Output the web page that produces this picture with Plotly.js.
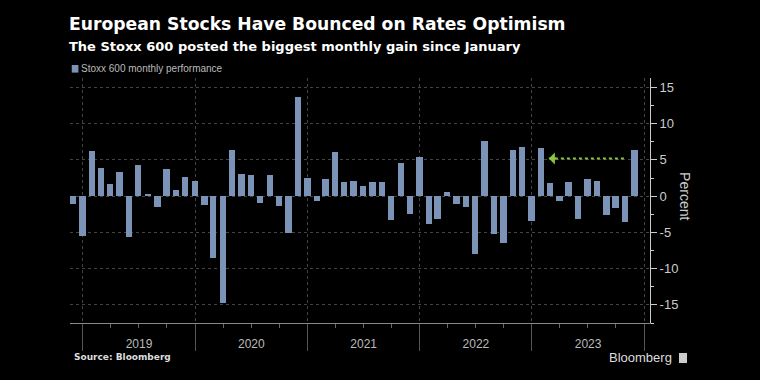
<!DOCTYPE html>
<html>
<head>
<meta charset="utf-8">
<script src="https://cdn.plot.ly/plotly-3.0.1.min.js"></script>
<style>
  html, body { margin: 0; padding: 0; background: #000; }
  #chart { width: 760px; height: 380px; }
</style>
</head>
<body>
<div id="chart"></div>
<script>
// Month-end dates of each observation
const months = [
  '2018-11-30','2018-12-31',
  '2019-01-31','2019-02-28','2019-03-31','2019-04-30','2019-05-31','2019-06-30','2019-07-31','2019-08-31','2019-09-30','2019-10-31','2019-11-30','2019-12-31',
  '2020-01-31','2020-02-29','2020-03-31','2020-04-30','2020-05-31','2020-06-30','2020-07-31','2020-08-31','2020-09-30','2020-10-31','2020-11-30','2020-12-31',
  '2021-01-31','2021-02-28','2021-03-31','2021-04-30','2021-05-31','2021-06-30','2021-07-31','2021-08-31','2021-09-30','2021-10-31','2021-11-30','2021-12-31',
  '2022-01-31','2022-02-28','2022-03-31','2022-04-30','2022-05-31','2022-06-30','2022-07-31','2022-08-31','2022-09-30','2022-10-31','2022-11-30','2022-12-31',
  '2023-01-31','2023-02-28','2023-03-31','2023-04-30','2023-05-31','2023-06-30','2023-07-31','2023-08-31','2023-09-30','2023-10-31','2023-11-30'
];
// Stoxx 600 monthly performance, percent
const performance = [
  -1.1, -5.5,
  6.2, 3.9, 1.7, 3.3, -5.6, 4.3, 0.3, -1.5, 3.7, 0.9, 2.7, 2.1,
  -1.2, -8.5, -14.7, 6.3, 3.1, 2.9, -1.0, 2.9, -1.4, -5.1, 13.7, 2.5,
  -0.7, 2.4, 6.1, 1.9, 2.1, 1.4, 2.0, 2.0, -3.3, 4.6, -2.5, 5.4,
  -3.8, -3.2, 0.6, -1.1, -1.5, -8.0, 7.6, -5.2, -6.5, 6.3, 6.8, -3.4,
  6.6, 1.8, -0.6, 2.0, -3.1, 2.3, 2.1, -2.6, -1.7, -3.6, 6.4
];
const seriesName = 'Stoxx 600 monthly performance';
const yTicks = [-15, -10, -5, 0, 5, 10, 15];
const yTickText = ['-15', '-10', '-5', '0', '5', '10', '15'];
// Arrow pointing from latest gain back to January
const arrowY = 5.2;
const arrowHead = '2023-02-25';
const arrowTail = '2023-10-28';

const BAR = '#7b93b7';
const GRID = '#444';
const GREEN = '#8cc63f';

const trace = {
  type: 'bar',
  x: months,
  y: performance,
  name: seriesName,
  marker: { color: BAR, line: { width: 0 } },
  width: 21 * 86400000,
  hoverinfo: 'x+y'
};

const layout = {
  width: 760,
  height: 380,
  paper_bgcolor: '#000',
  plot_bgcolor: '#000',
  margin: { l: 70, r: 110, t: 78, b: 57 },
  showlegend: false,
  bargap: 0,
  xaxis: {
    type: 'date',
    range: ['2018-11-20', '2024-01-20'],
    tick0: '2019-01-01',
    dtick: 'M12',
    tickformat: '%Y',
    ticklabelmode: 'period',
    ticks: 'outside',
    ticklen: 27,
    tickwidth: 1,
    tickcolor: '#555',
    ticklabelstandoff: -17,
    showgrid: true,
    gridcolor: GRID,
    griddash: 'dot',
    gridwidth: 1,
    showline: true,
    linecolor: '#888',
    linewidth: 1,
    zeroline: false,
    tickfont: { family: 'Liberation Sans, Arial, sans-serif', size: 12, color: '#bbb' },
    minor: { dtick: 'M3', tick0: '2019-01-01', ticks: 'outside', ticklen: 4, tickcolor: '#666', showgrid: false },
    fixedrange: true
  },
  yaxis: {
    side: 'right',
    range: [-17.5, 16.3],
    tickvals: yTicks,
    ticktext: yTickText,
    ticks: 'outside',
    ticklen: 6,
    tickcolor: '#ccc',
    showline: true,
    linecolor: '#ccc',
    linewidth: 1,
    showgrid: true,
    gridcolor: GRID,
    griddash: 'dot',
    zeroline: false,
    tickfont: { family: 'Liberation Sans, Arial, sans-serif', size: 13, color: '#ccc' },
    minor: { dtick: 2.5, tick0: 0, ticks: 'outside', ticklen: 3, tickcolor: '#ccc', showgrid: false },
    fixedrange: true
  },
  shapes: [
    // legend swatch
    { type: 'rect', xref: 'paper', yref: 'paper', x0: 0.003, x1: 0.0145, y0: 1.022, y1: 1.053,
      fillcolor: BAR, line: { width: 0 } },
    // dotted arrow shaft
    { type: 'line', xref: 'x', yref: 'y', x0: arrowHead, x1: arrowTail, y0: arrowY, y1: arrowY,
      line: { color: GREEN, width: 2, dash: 'dot' } },
    // bloomberg icon
    { type: 'rect', xref: 'paper', yref: 'paper', x0: 1.05, x1: 1.0638, y0: -0.1633, y1: -0.1224,
      fillcolor: '#ccc', line: { width: 0 } }
  ],
  annotations: [
    { text: '<b>European Stocks Have Bounced on Rates Optimism</b>', xref: 'paper', yref: 'paper',
      x: -0.005, y: 1.221, xanchor: 'left', yanchor: 'middle', showarrow: false,
      font: { family: 'DejaVu Sans, Verdana, sans-serif', size: 17.2, color: '#fff' } },
    { text: '<b>The Stoxx 600 posted the biggest monthly gain since January</b>', xref: 'paper', yref: 'paper',
      x: -0.005, y: 1.129, xanchor: 'left', yanchor: 'middle', showarrow: false,
      font: { family: 'DejaVu Sans, Verdana, sans-serif', size: 13, color: '#fff' } },
    { text: seriesName, xref: 'paper', yref: 'paper',
      x: 0.0155, y: 1.037, xanchor: 'left', yanchor: 'middle', showarrow: false,
      font: { family: 'Liberation Sans, Arial, sans-serif', size: 10, color: '#bbb' } },
    { text: 'Percent', xref: 'paper', yref: 'paper', x: 1.0603, y: 0.518,
      xanchor: 'center', yanchor: 'middle', textangle: 90, showarrow: false,
      font: { family: 'Liberation Sans, Arial, sans-serif', size: 14, color: '#ccc' } },
    { text: '<b>Source: Bloomberg</b>', xref: 'paper', yref: 'paper', x: 0.003, y: -0.139,
      xanchor: 'left', yanchor: 'middle', showarrow: false,
      font: { family: 'DejaVu Sans, Verdana, sans-serif', size: 9, color: '#ddd' } },
    { text: 'Bloomberg', xref: 'paper', yref: 'paper', x: 1.042, y: -0.139,
      xanchor: 'right', yanchor: 'middle', showarrow: false,
      font: { family: 'Liberation Sans, Arial, sans-serif', size: 13, color: '#ddd' } },
    // arrowhead
    { x: arrowHead, y: arrowY, xref: 'x', yref: 'y', ax: '2023-03-25', ay: arrowY, axref: 'x', ayref: 'y',
      text: '', showarrow: true, arrowhead: 1, arrowsize: 1, arrowwidth: 2, arrowcolor: GREEN, standoff: 0 }
  ]
};

Plotly.newPlot('chart', [trace], layout, { displayModeBar: false, staticPlot: true });
</script>
</body>
</html>
